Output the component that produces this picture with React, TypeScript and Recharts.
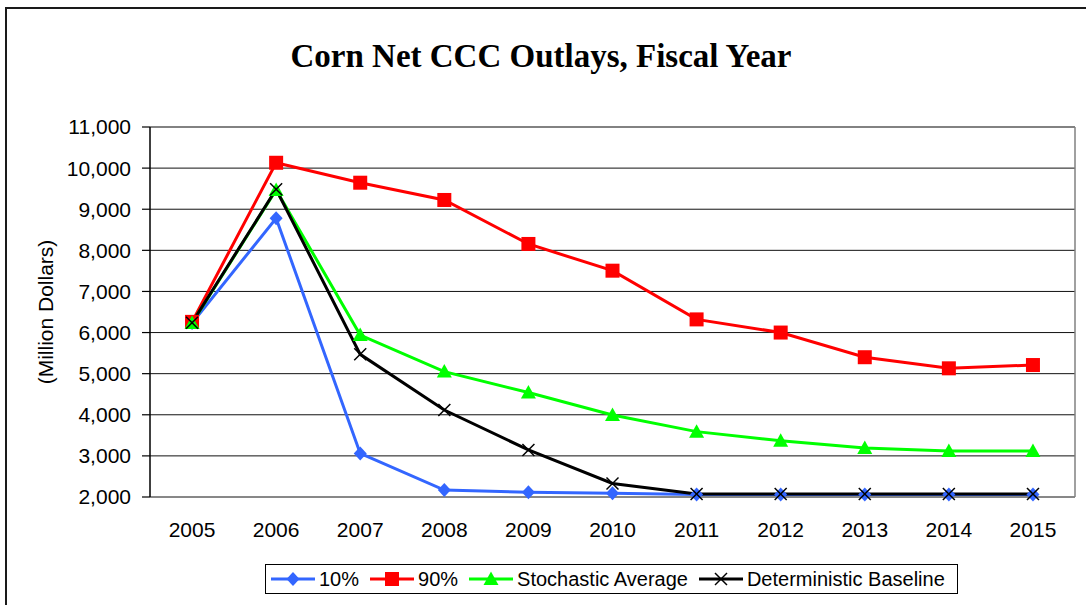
import { CartesianGrid, Line, LineChart, ReferenceLine, XAxis, YAxis } from 'recharts';

const years = [2005, 2006, 2007, 2008, 2009, 2010, 2011, 2012, 2013, 2014, 2015];
const yearBounds = [2004.5, 2005.5, 2006.5, 2007.5, 2008.5, 2009.5, 2010.5, 2011.5, 2012.5, 2013.5, 2014.5, 2015.5];
const yTicks = [2000, 3000, 4000, 5000, 6000, 7000, 8000, 9000, 10000, 11000];

const pct10 = [6230, 8780, 3060, 2170, 2115, 2090, 2060, 2060, 2060, 2060, 2060];
const pct90 = [6260, 10130, 9645, 9225, 8155, 7505, 6320, 6000, 5400, 5130, 5210];
const stochasticAvg = [6230, 9470, 5940, 5050, 4540, 3995, 3590, 3370, 3190, 3120, 3120];
const deterministic = [6240, 9485, 5470, 4115, 3145, 2330, 2075, 2075, 2075, 2075, 2075];

type Shape = 'diamond' | 'square' | 'triangle' | 'cross';

const series: { key: string; name: string; color: string; shape: Shape }[] = [
  { key: 'p10', name: '10%', color: '#3366ff', shape: 'diamond' },
  { key: 'p90', name: '90%', color: '#ff0000', shape: 'square' },
  { key: 'avg', name: 'Stochastic Average', color: '#00ff00', shape: 'triangle' },
  { key: 'det', name: 'Deterministic Baseline', color: '#000000', shape: 'cross' },
];

const rows = years.map((year, i) => ({
  year,
  p10: pct10[i],
  p90: pct90[i],
  avg: stochasticAvg[i],
  det: deterministic[i],
}));

const sans = '"Liberation Sans", Arial, sans-serif';

function Marker({ shape, color, cx, cy }: { shape: Shape; color: string; cx: number; cy: number }) {
  if (shape === 'diamond') {
    return <polygon points={`${cx},${cy - 7} ${cx + 6.5},${cy} ${cx},${cy + 7} ${cx - 6.5},${cy}`} fill={color} />;
  }
  if (shape === 'square') {
    return <rect x={cx - 7} y={cy - 7} width={14} height={14} fill={color} />;
  }
  if (shape === 'triangle') {
    return <polygon points={`${cx},${cy - 7.5} ${cx + 7.5},${cy + 6} ${cx - 7.5},${cy + 6}`} fill={color} />;
  }
  return (
    <g stroke={color} strokeWidth={1.5}>
      <line x1={cx - 6} y1={cy - 6} x2={cx + 6} y2={cy + 6} />
      <line x1={cx - 6} y1={cy + 6} x2={cx + 6} y2={cy - 6} />
    </g>
  );
}

function dotFor(shape: Shape, color: string) {
  return (props: any) => (
    <Marker key={`${shape}-${props.index}`} shape={shape} color={color} cx={props.cx} cy={props.cy} />
  );
}

function YLabel(props: any) {
  const vb = props.viewBox;
  const x = vb.x + 15;
  const y = vb.y + vb.height / 2;
  return (
    <text
      x={x}
      y={y}
      transform={`rotate(-90, ${x}, ${y})`}
      textAnchor="middle"
      dominantBaseline="central"
      fontFamily={sans}
      fontSize={21}
      fill="#000"
    >
      (Million Dollars)
    </text>
  );
}

function LegendBox() {
  return (
    <div
      style={{
        position: 'absolute',
        left: 265,
        top: 564,
        width: 693,
        height: 30,
        boxSizing: 'border-box',
        border: '1.5px solid #000',
        display: 'flex',
        alignItems: 'center',
        paddingLeft: 5,
        fontFamily: sans,
        fontSize: 20,
        whiteSpace: 'nowrap',
      }}
    >
      {series.map((s) => (
        <span key={s.key} style={{ display: 'flex', alignItems: 'center', marginRight: 11 }}>
          <svg width={44} height={16}>
            <line x1={0} y1={8} x2={44} y2={8} stroke={s.color} strokeWidth={3} />
            <Marker shape={s.shape} color={s.color} cx={22} cy={8} />
          </svg>
          <span style={{ marginLeft: 4 }}>{s.name}</span>
        </span>
      ))}
    </div>
  );
}

export default function App() {
  return (
    <div style={{ position: 'absolute', left: 0, top: 0, width: 1086, height: 605, overflow: 'hidden', background: '#fff' }}>
      <div
        style={{
          position: 'absolute',
          left: 5,
          top: 7,
          width: 1100,
          height: 620,
          border: '2px solid #1a1a1a',
        }}
      />
      <div
        style={{
          position: 'absolute',
          left: 0,
          top: 40,
          width: 1082,
          textAlign: 'center',
          fontFamily: '"Liberation Serif", "Times New Roman", serif',
          fontWeight: 'bold',
          fontSize: 33,
          lineHeight: '33px',
        }}
      >
        Corn Net CCC Outlays, Fiscal Year
      </div>
      <div style={{ position: 'absolute', left: 0, top: 0 }}>
        <LineChart width={1086} height={605} data={rows} margin={{ top: 127, right: 11, bottom: 68, left: 30 }}>
          <CartesianGrid horizontal vertical={false} stroke="#111" strokeWidth={1} />
          <XAxis
            xAxisId="bounds"
            dataKey="year"
            type="number"
            domain={[2004.5, 2015.5]}
            ticks={yearBounds}
            tick={false}
            tickSize={8}
            height={0}
            axisLine={{ stroke: '#000', strokeWidth: 1.5 }}
            tickLine={{ stroke: '#000', strokeWidth: 1.2 }}
          />
          <XAxis
            xAxisId="years"
            dataKey="year"
            type="number"
            domain={[2004.5, 2015.5]}
            ticks={years}
            axisLine={false}
            tickLine={false}
            tickSize={0}
            tickMargin={25}
            height={40}
            tick={{ fill: '#000', fontSize: 21, fontFamily: sans }}
          />
          <YAxis
            type="number"
            domain={[2000, 11000]}
            ticks={yTicks}
            width={120}
            tickSize={8}
            tickMargin={11}
            tickFormatter={(v: number) => v.toLocaleString('en-US')}
            tick={{ fill: '#000', fontSize: 21, fontFamily: sans }}
            axisLine={{ stroke: '#000', strokeWidth: 1.5 }}
            tickLine={{ stroke: '#000', strokeWidth: 1.2 }}
            label={<YLabel />}
          />
          <ReferenceLine xAxisId="years" y={11000} stroke="#808080" strokeWidth={1.5} />
          <ReferenceLine xAxisId="years" x={2015.5} stroke="#808080" strokeWidth={1.5} />
          {series.map((s) => (
            <Line
              key={s.key}
              xAxisId="years"
              dataKey={s.key}
              name={s.name}
              stroke={s.color}
              strokeWidth={3}
              dot={dotFor(s.shape, s.color)}
              activeDot={false}
              isAnimationActive={false}
            />
          ))}
        </LineChart>
      </div>
      <LegendBox />
    </div>
  );
}
